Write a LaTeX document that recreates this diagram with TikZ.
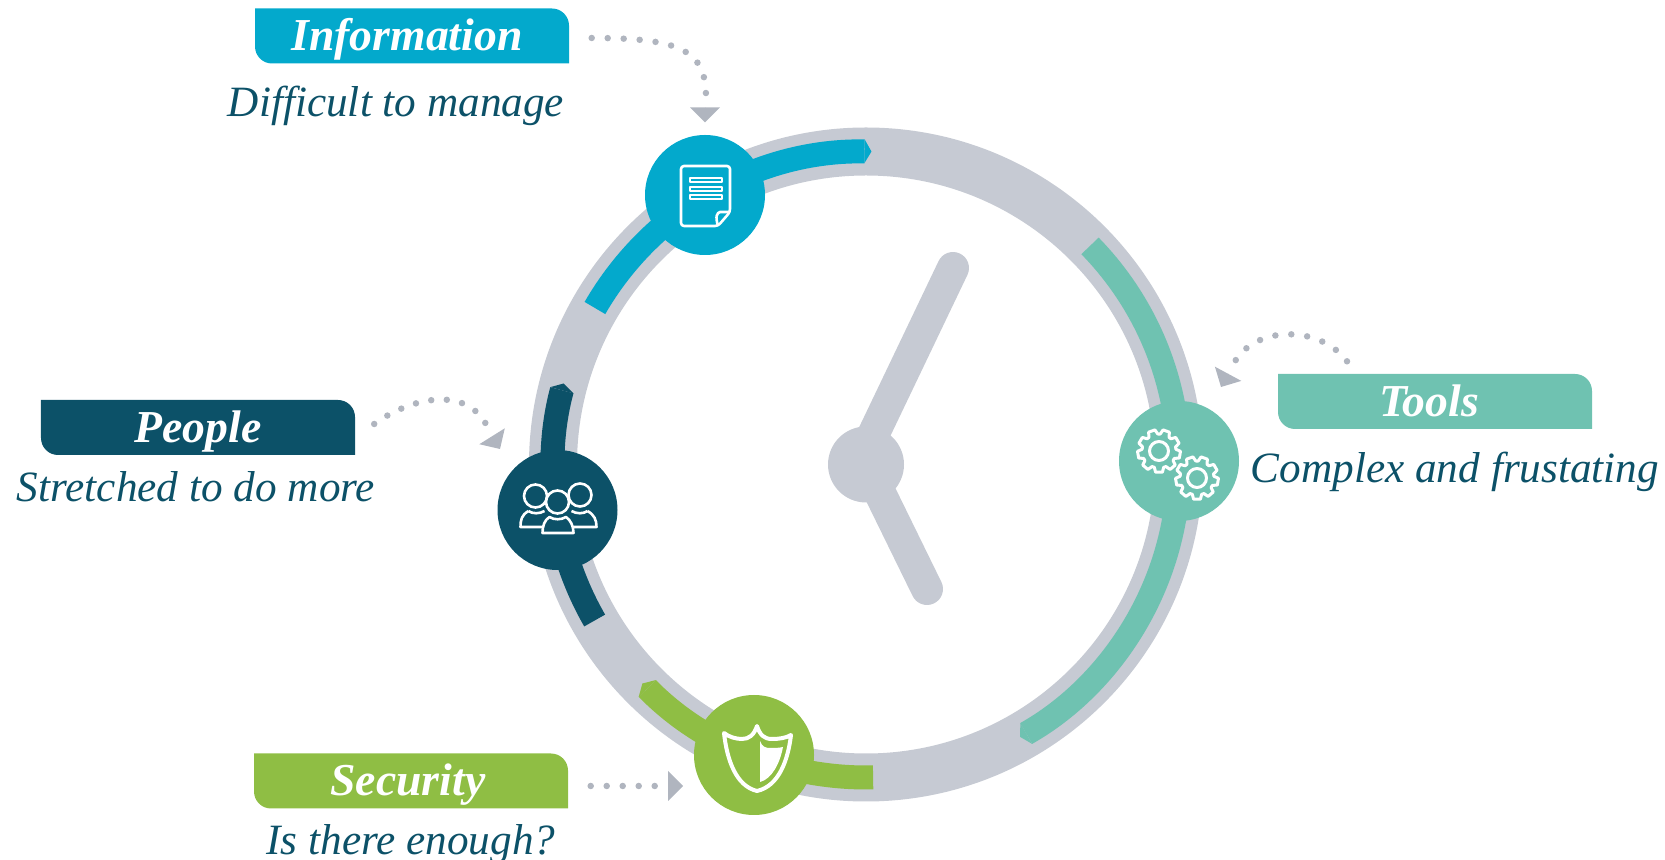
\documentclass[tikz,border=0pt]{standalone}
\usepackage{fontspec}
\setmainfont{Liberation Serif}
\usetikzlibrary{positioning,arrows.meta}
\definecolor{infoblue}{HTML}{03A9CC}
\definecolor{peopleteal}{HTML}{0C5168}
\definecolor{toolsgreen}{HTML}{6FC2B1}
\definecolor{secgreen}{HTML}{8FBE44}
\definecolor{ringgrey}{HTML}{C6CAD3}
\definecolor{dotgrey}{HTML}{B0B5BF}
\newcommand{\gearicon}[1]{
  \draw[iconline, line width=.3mm, shift={(#1)}] (-6:17) \foreach \a in {10,50,...,330} {
      -- (\a-16:17) -- (\a-9:21.5) -- (\a+9:21.5) -- (\a+16:17)} -- cycle;
  \draw[iconline, line width=.3mm, shift={(#1)}] (0,0) circle (9.5);
}
\begin{document}
\begin{tikzpicture}[node distance=1mm,
    tagbox/.style={text=white, font=\fontsize{13}{16}\selectfont\bfseries\itshape,
      minimum width=3.14cm, minimum height=.55cm, inner sep=0pt,
      text height=.42cm, text depth=.12cm,
      path picture={\fill[#1] (path picture bounding box.north west)
        -- ([xshift=-1.7mm]path picture bounding box.north east)
        arc[start angle=90, end angle=0, radius=1.7mm]
        -- (path picture bounding box.south east)
        -- ([xshift=1.7mm]path picture bounding box.south west)
        arc[start angle=270, end angle=180, radius=1.7mm] -- cycle;}},
    subtext/.style={text=peopleteal, font=\fontsize{12.3}{15}\selectfont\itshape,
      inner sep=0pt, text height=.42cm, text depth=.1cm},
    iconcirc/.style={circle, fill=#1, minimum size=1.2cm, inner sep=0pt},
    arcline/.style={line width=.24cm, draw=#1, -{Triangle[length=.07cm,width=.24cm,line width=0pt]}},
    dotline/.style={draw=dotgrey, line width=.065cm, line cap=round, dash pattern=on 0pt off #1},
    dotline/.default=.16cm,
    tipline/.style={draw=dotgrey, line width=.1pt, -{Triangle[length=.15cm,width=.3cm,line width=0pt]}},
    iconline/.style={draw=white, line width=.26mm, line join=round, x=.1mm, y=-.1mm}]
  \useasboundingbox (0,0) rectangle (16.65,8.6);

  \node[circle, fill=ringgrey, minimum size=.76cm, inner sep=0pt] (hub) at (8.66,3.955) {};
  \draw[ringgrey, line width=.48cm] (hub.center) circle (3.13);
  \coordinate (longtip) at (9.53,5.92);
  \coordinate (shorttip) at (9.27,2.71);
  \draw[ringgrey, line width=.32cm, line cap=round] ([xshift=-.07cm]hub.center) -- (longtip);
  \draw[ringgrey, line width=.32cm, line cap=round] (hub.center) -- (shorttip);

  \draw[arcline=infoblue] ([shift={(150:3.13)}]hub.center) arc[start angle=150, end angle=89, radius=3.13];
  \draw[arcline=toolsgreen] ([shift={(44.3:3.13)}]hub.center) arc[start angle=44.3, end angle=-60.5, radius=3.13];
  \draw[arcline=peopleteal] ([shift={(209.9:3.13)}]hub.center) arc[start angle=209.9, end angle=165, radius=3.13];
  \draw[arcline=secgreen] ([shift={(271.3:3.13)}]hub.center) arc[start angle=271.3, end angle=224.4, radius=3.13];

  \node[iconcirc=infoblue] (info) at (7.05,6.65) {};
  \node[iconcirc=peopleteal] (people) at (5.575,3.50) {};
  \node[iconcirc=toolsgreen] (tools) at (11.79,3.99) {};
  \node[iconcirc=secgreen] (security) at (7.54,1.05) {};

  \node[tagbox=infoblue] (infobox) at (4.12,8.24) {\hspace*{-.1cm}Information};
  \node[tagbox=peopleteal] (peoplebox) at (1.98,4.325) {People};
  \node[tagbox=toolsgreen] (toolsbox) at (14.35,4.585) {\hspace*{-.12cm}Tools};
  \node[tagbox=secgreen] (securitybox) at (4.11,0.79) {\hspace*{-.06cm}Security};

  \node[subtext, below=1mm of infobox, xshift=-.16cm] (infotext) {Difficult to manage};
  \node[subtext, below=.3mm of peoplebox, xshift=-.02cm] (peopletext) {Stretched to do more};
  \node[subtext, below=1mm of toolsbox, xshift=.2cm] (toolstext) {Complex and frustating};
  \node[subtext, below=.3mm of securitybox] (securitytext) {Is there enough?};

  \coordinate (infoend) at (7.06,7.64);
  \coordinate[above=.27cm of info] (infobase);
  \coordinate[above=.12cm of info] (infotip);
  \coordinate (peopleend) at (4.865,4.35);
  \coordinate (peoplebase) at (4.925,4.23);
  \coordinate (peopletip) at (5.00,4.11);
  \coordinate (toolsend) at (12.34,4.97);
  \coordinate (toolsbase) at (12.28,4.86);
  \coordinate (toolstip) at (12.21,4.73);
  \coordinate (securityend) at (6.56,0.74);
  \coordinate (securitybase) at (6.68,0.74);
  \coordinate (securitytip) at (6.83,0.74);
  \draw[dotline] ([xshift=.22cm,yshift=-.02cm]infobox.east) .. controls (6.8,8.22) and (7.056,8.1) .. (infoend);
  \draw[tipline] (infobase) -- (infotip);
  \draw[dotline=.156cm] ([xshift=.185cm,yshift=.035cm]peoplebox.east) .. controls (4.1,4.62) and (4.65,4.75) .. (peopleend);
  \draw[tipline] (peoplebase) -- (peopletip);
  \draw[dotline] ([xshift=-.88cm,yshift=.12cm]toolsbox.north) .. controls (13.2,5.35) and (12.55,5.35) .. (toolsend);
  \draw[tipline] (toolsbase) -- (toolstip);
  \draw[dotline] ([xshift=.22cm,yshift=-.05cm]securitybox.east) -- (securityend);
  \draw[tipline] (securitybase) -- (securitytip);

  \begin{scope}[shift={(info.center)}, x=.1mm, y=-.1mm]
    \draw[iconline, rounded corners=.03cm] (-24,-29) -- (25,-29) -- (25,17) -- (13,31) -- (-24,31) -- cycle;
    \draw[iconline] (25,17) -- (15,17) .. controls (12,18) and (10,21) .. (13,31);
    \draw[iconline, line width=.2mm] (-15,-17) rectangle (17,-13);
    \draw[iconline, line width=.2mm] (-15,-8) rectangle (17,-4);
    \draw[iconline, line width=.2mm] (-15,0) rectangle (17,4);
  \end{scope}

  \begin{scope}[shift={(people.center)}, x=.1mm, y=-.1mm]
    \draw[iconline] (-29,1) .. controls (-36,5) and (-37,10) .. (-37,17) -- (-15,17);
    \draw[iconline] (-29,1) .. controls (-25,4) and (-18,4) .. (-13,1);
    \draw[iconline] (30,1) .. controls (37,5) and (39,10) .. (39,17) -- (15,17);
    \draw[iconline] (30,1) .. controls (26,4) and (19,4) .. (14,1);
    \draw[iconline] (-22,-14) circle (11.5);
    \draw[iconline] (22.5,-15) circle (11.5);
    \draw[iconline, fill=peopleteal] (-8,7) .. controls (-13,10) and (-15,16) .. (-15,23) -- (16,23)
      .. controls (16,16) and (13,10) .. (8.5,7) .. controls (4,10) and (-4,10) .. (-8,7) -- cycle;
    \draw[iconline, fill=peopleteal] (0,-8) circle (11.5);
  \end{scope}

  \begin{scope}[shift={(tools.center)}, x=.1mm, y=-.1mm]
    \gearicon{-20,-10}
    \gearicon{18,17}
  \end{scope}

  \begin{scope}[shift={(security.center)}, x=.1mm, y=-.1mm]
    \draw[iconline, line width=.4mm] (3,-29) .. controls (6,-20) and (10,-16) .. (18,-16)
      .. controls (25,-16) and (32,-17) .. (37,-20) .. controls (34,5) and (25,31) .. (3,36)
      .. controls (-18,31) and (-27,5) .. (-30,-22) .. controls (-25,-18) and (-18,-16) .. (-12,-16)
      .. controls (-5,-16) and (0,-20) .. (3,-29) -- cycle;
    \fill[white, x=.1mm, y=-.1mm] (6,-14) .. controls (8,-8) and (12,-7) .. (16,-7) .. controls (20,-7) and (25,-7) .. (29,-8)
      .. controls (26,8) and (18,24) .. (6,27) -- cycle;
  \end{scope}
\end{tikzpicture}
\end{document}
